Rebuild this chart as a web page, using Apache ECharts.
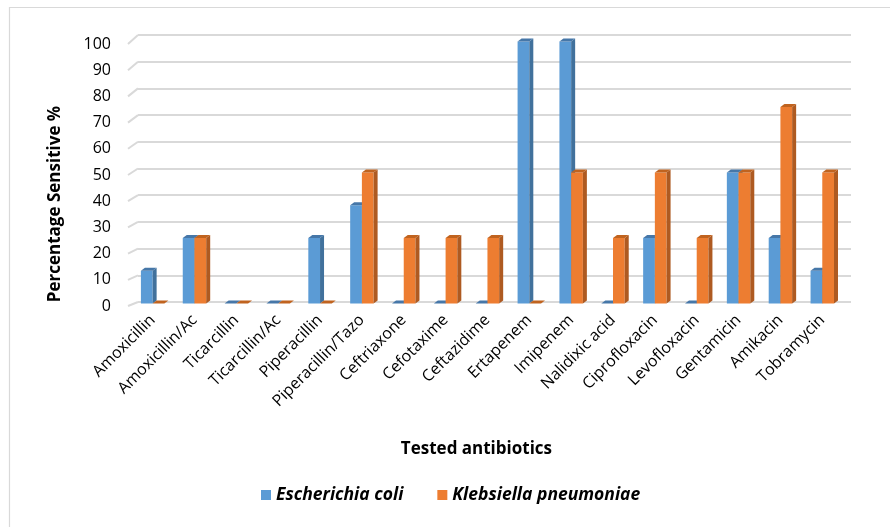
<!DOCTYPE html>
<html>
<head>
<meta charset="utf-8">
<script src="https://cdn.jsdelivr.net/npm/echarts@6/dist/echarts.min.js"></script>
<style>
  html, body { margin: 0; padding: 0; background: #ffffff; }
  #chart { width: 890px; height: 527px; }
</style>
</head>
<body>
<div id="chart"></div>
<script>
// Antibiotic susceptibility of the two isolates (% sensitive)
const antibiotics = ['Amoxicillin', 'Amoxicillin/Ac', 'Ticarcillin', 'Ticarcillin/Ac', 'Piperacillin',
  'Piperacillin/Tazo', 'Ceftriaxone', 'Cefotaxime', 'Ceftazidime', 'Ertapenem', 'Imipenem',
  'Nalidixic acid', 'Ciprofloxacin', 'Levofloxacin', 'Gentamicin', 'Amikacin', 'Tobramycin'];
const ecoli = [12.5, 25, 0, 0, 25, 37.5, 0, 0, 0, 100, 100, 0, 25, 0, 50, 25, 12.5];
const klebsiella = [0, 25, 0, 0, 0, 50, 25, 25, 25, 0, 50, 25, 50, 25, 50, 75, 50];
const yTicks = [0, 10, 20, 30, 40, 50, 60, 70, 80, 90, 100];

const FONT = '"Open Sans", "Noto Sans", sans-serif';
const chart = echarts.init(document.getElementById('chart'));

// Shaded colours for the front, side and top faces of each column
const palettes = [
  { front: '#5b9bd5', side: '#41719c', top: '#4677a8' },
  { front: '#ed7d31', side: '#ae5a21', top: '#c0631f' }
];
const DEPTH_X = 4, DEPTH_Y = 3, BAR_FRACTION = 0.28;

function columnRenderer(seriesIdx) {
  const pal = palettes[seriesIdx];
  return function (params, api) {
    const cat = api.value(0);
    const val = api.value(1);
    const base = api.coord([cat, 0]);
    const top = api.coord([cat, val]);
    const band = api.size([1, 0])[0];
    const w = band * BAR_FRACTION;
    const x0 = seriesIdx === 0 ? base[0] - w : base[0];
    const x1 = x0 + w;
    const yb = base[1], yt = top[1];
    const children = [];
    if (yb - yt > 0.5) {
      children.push({
        type: 'rect',
        shape: { x: x0, y: yt, width: w, height: yb - yt },
        style: { fill: pal.front }
      });
      children.push({
        type: 'polygon',
        shape: { points: [[x1, yt], [x1 + DEPTH_X, yt - DEPTH_Y], [x1 + DEPTH_X, yb - DEPTH_Y], [x1, yb]] },
        style: { fill: pal.side }
      });
    }
    children.push({
      type: 'polygon',
      shape: { points: [[x0, yt], [x0 + DEPTH_X, yt - DEPTH_Y], [x1 + DEPTH_X, yt - DEPTH_Y], [x1, yt]] },
      style: { fill: pal.top }
    });
    return { type: 'group', children: children };
  };
}

const option = {
  backgroundColor: '#ffffff',
  animation: false,
  textStyle: { fontFamily: FONT },
  grid: [
    // front edge of the floor: holds the value labels
    { left: 128, right: 752, top: 44, bottom: 221 },
    // back wall: holds the gridlines
    { left: 138, right: 39, top: 35, bottom: 225 },
    // columns
    { left: 131.7, right: 46.8, top: 41.5, bottom: 223.5 }
  ],
  xAxis: [
    { gridIndex: 0, type: 'value', min: 0, max: 1, show: false },
    { gridIndex: 1, type: 'value', min: 0, max: 1, show: false },
    {
      gridIndex: 2, type: 'category', data: antibiotics,
      axisLine: { show: false }, axisTick: { show: false },
      axisLabel: { rotate: 45, fontSize: 16, color: '#000', margin: 14, interval: 0, fontFamily: FONT },
      name: 'Tested antibiotics', nameLocation: 'middle', nameGap: 137,
      nameTextStyle: { fontSize: 17, fontWeight: 'bold', color: '#000', fontFamily: FONT, padding: [0, 22, 0, 0] }
    }
  ],
  yAxis: [
    {
      gridIndex: 0, type: 'value', min: 0, max: 100, interval: 10,
      axisLine: { show: false }, axisTick: { show: false }, splitLine: { show: false },
      axisLabel: { fontSize: 16, color: '#000', margin: 17, fontFamily: FONT },
      name: 'Percentage Sensitive %', nameLocation: 'middle', nameGap: 64,
      nameTextStyle: { fontSize: 17, fontWeight: 'bold', color: '#000', fontFamily: FONT, padding: [0, 58, 0, 0] }
    },
    {
      gridIndex: 1, type: 'value', min: 0, max: 100, interval: 10,
      axisLine: { show: false }, axisTick: { show: false }, axisLabel: { show: false },
      splitLine: { show: true, lineStyle: { color: '#d9d9d9', width: 2 } }
    },
    { gridIndex: 2, type: 'value', min: 0, max: 100, show: false }
  ],
  legend: {
    bottom: 18, left: 256,
    itemWidth: 10, itemHeight: 10, itemGap: 34,
    icon: 'rect',
    textStyle: { fontSize: 17.5, fontWeight: 'bold', fontStyle: 'italic', color: '#000', fontFamily: FONT },
    data: [
      { name: 'Escherichia coli', itemStyle: { color: palettes[0].front } },
      { name: 'Klebsiella pneumoniae', itemStyle: { color: palettes[1].front } }
    ]
  },
  series: [
    {
      name: 'Escherichia coli', type: 'custom', xAxisIndex: 2, yAxisIndex: 2,
      itemStyle: { color: palettes[0].front },
      renderItem: columnRenderer(0),
      data: ecoli.map((v, i) => [i, v])
    },
    {
      name: 'Klebsiella pneumoniae', type: 'custom', xAxisIndex: 2, yAxisIndex: 2,
      itemStyle: { color: palettes[1].front },
      renderItem: columnRenderer(1),
      data: klebsiella.map((v, i) => [i, v])
    }
  ]
};
chart.setOption(option);

// Slanted floor-to-wall segments joining each value label to its gridline,
// plus the chart-area frame on the top and left.
const extras = yTicks.map(v => {
  const front = chart.convertToPixel({ gridIndex: 0 }, [0, v]);
  const back = chart.convertToPixel({ gridIndex: 1 }, [0, v]);
  return {
    type: 'line', silent: true, z: 0,
    shape: { x1: front[0], y1: front[1], x2: back[0], y2: back[1] },
    style: { stroke: '#d9d9d9', lineWidth: 2 }
  };
});
extras.push({
  type: 'polyline', silent: true,
  shape: { points: [[9.5, 527], [9.5, 7.5], [890, 7.5]] },
  style: { stroke: '#d9d9d9', lineWidth: 1.2, fill: null }
});
chart.setOption({ graphic: extras });
</script>
</body>
</html>
